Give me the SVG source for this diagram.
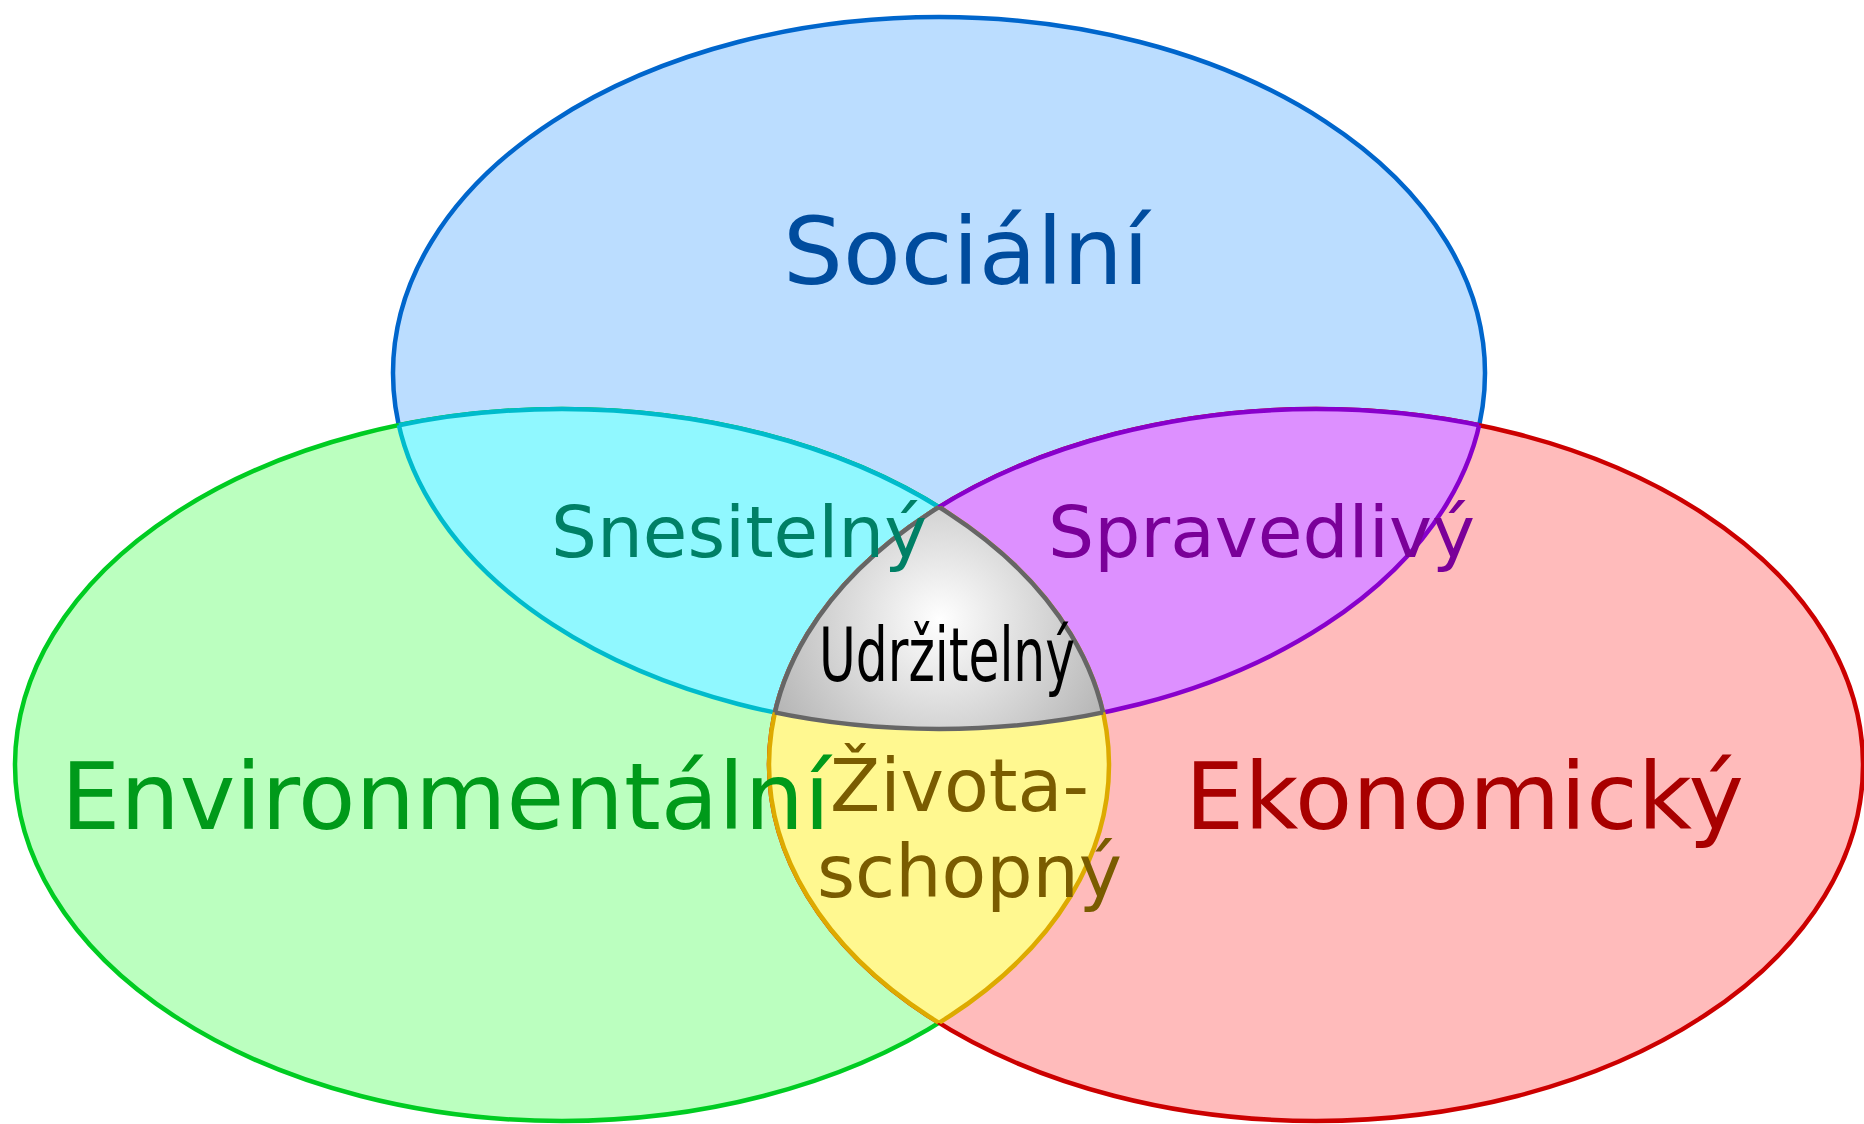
<svg xmlns="http://www.w3.org/2000/svg" width="1864" height="1124" viewBox="0 0 1864 1124">
<style>
  text { font-family: "DejaVu Sans", "Liberation Sans", sans-serif; }
  .big { font-size: 93px; }
  .mid { font-size: 72px; }
  .sw { stroke-width: 4.5; }
</style>
<defs>
  <ellipse id="eS" cx="939" cy="373" rx="546" ry="356"/>
  <ellipse id="eG" cx="562" cy="765" rx="547" ry="356"/>
  <ellipse id="eR" cx="1316" cy="765" rx="547" ry="356"/>
  <clipPath id="cS"><use href="#eS"/></clipPath>
  <clipPath id="cG"><use href="#eG"/></clipPath>
  <clipPath id="cR"><use href="#eR"/></clipPath>
  <radialGradient id="gray" gradientUnits="userSpaceOnUse" cx="940" cy="620" r="200">
    <stop offset="0" stop-color="#ffffff"/>
    <stop offset="1" stop-color="#b0b0b0"/>
  </radialGradient>
</defs>
<rect width="1864" height="1124" fill="#ffffff"/>

<g id="socialni">
  <use href="#eS" fill="#bbddff" stroke="#0066cc" class="sw"/>
</g>
<g id="environmentalni">
  <use href="#eG" fill="#bbffbf" stroke="#00cc22" class="sw"/>
</g>
<g id="ekonomicky">
  <use href="#eR" fill="#ffbbbb" stroke="#cc0000" class="sw"/>
</g>

<g id="snesitelny">
  <g clip-path="url(#cG)"><use href="#eS" fill="#90f8ff" stroke="#00bbcc" class="sw"/></g>
  <g clip-path="url(#cS)"><use href="#eG" fill="none" stroke="#00bbcc" class="sw"/></g>
</g>
<g id="spravedlivy">
  <g clip-path="url(#cR)"><use href="#eS" fill="#dd90ff" stroke="#8800cc" class="sw"/></g>
  <g clip-path="url(#cS)"><use href="#eR" fill="none" stroke="#8800cc" class="sw"/></g>
</g>
<g id="zivotaschopny">
  <g clip-path="url(#cR)"><use href="#eG" fill="#fff890" stroke="#ddaa00" class="sw"/></g>
  <g clip-path="url(#cG)"><use href="#eR" fill="none" stroke="#ddaa00" class="sw"/></g>
</g>
<g id="udrzitelny">
  <g clip-path="url(#cG)"><g clip-path="url(#cR)"><use href="#eS" fill="url(#gray)" stroke="#666666" class="sw"/></g></g>
  <g clip-path="url(#cS)"><g clip-path="url(#cR)"><use href="#eG" fill="none" stroke="#666666" class="sw"/></g></g>
  <g clip-path="url(#cS)"><g clip-path="url(#cG)"><use href="#eR" fill="none" stroke="#666666" class="sw"/></g></g>
</g>

<g id="labels">
  <text class="big" x="783" y="284" fill="#004c9e" textLength="366" lengthAdjust="spacingAndGlyphs">Sociální</text>
  <text class="mid" x="551" y="557" fill="#008066" textLength="376" lengthAdjust="spacingAndGlyphs">Snesitelný</text>
  <text class="mid" x="1048" y="557" fill="#7a0099" textLength="427" lengthAdjust="spacingAndGlyphs">Spravedlivý</text>
  <text style="font-size:74px" x="819" y="681" fill="#000000" textLength="256" lengthAdjust="spacingAndGlyphs">Udržitelný</text>
  <text class="big" x="61" y="829" fill="#009a1a" textLength="769" lengthAdjust="spacingAndGlyphs">Environmentální</text>
  <text class="big" x="1185" y="829" fill="#a80000" textLength="559" lengthAdjust="spacingAndGlyphs">Ekonomický</text>
  <text style="font-size:73px" x="830" y="811" fill="#7a5c00" textLength="259" lengthAdjust="spacingAndGlyphs">Života-</text>
  <text style="font-size:73px" x="817" y="897" fill="#7a5c00" textLength="305" lengthAdjust="spacingAndGlyphs">schopný</text>
</g>
</svg>
